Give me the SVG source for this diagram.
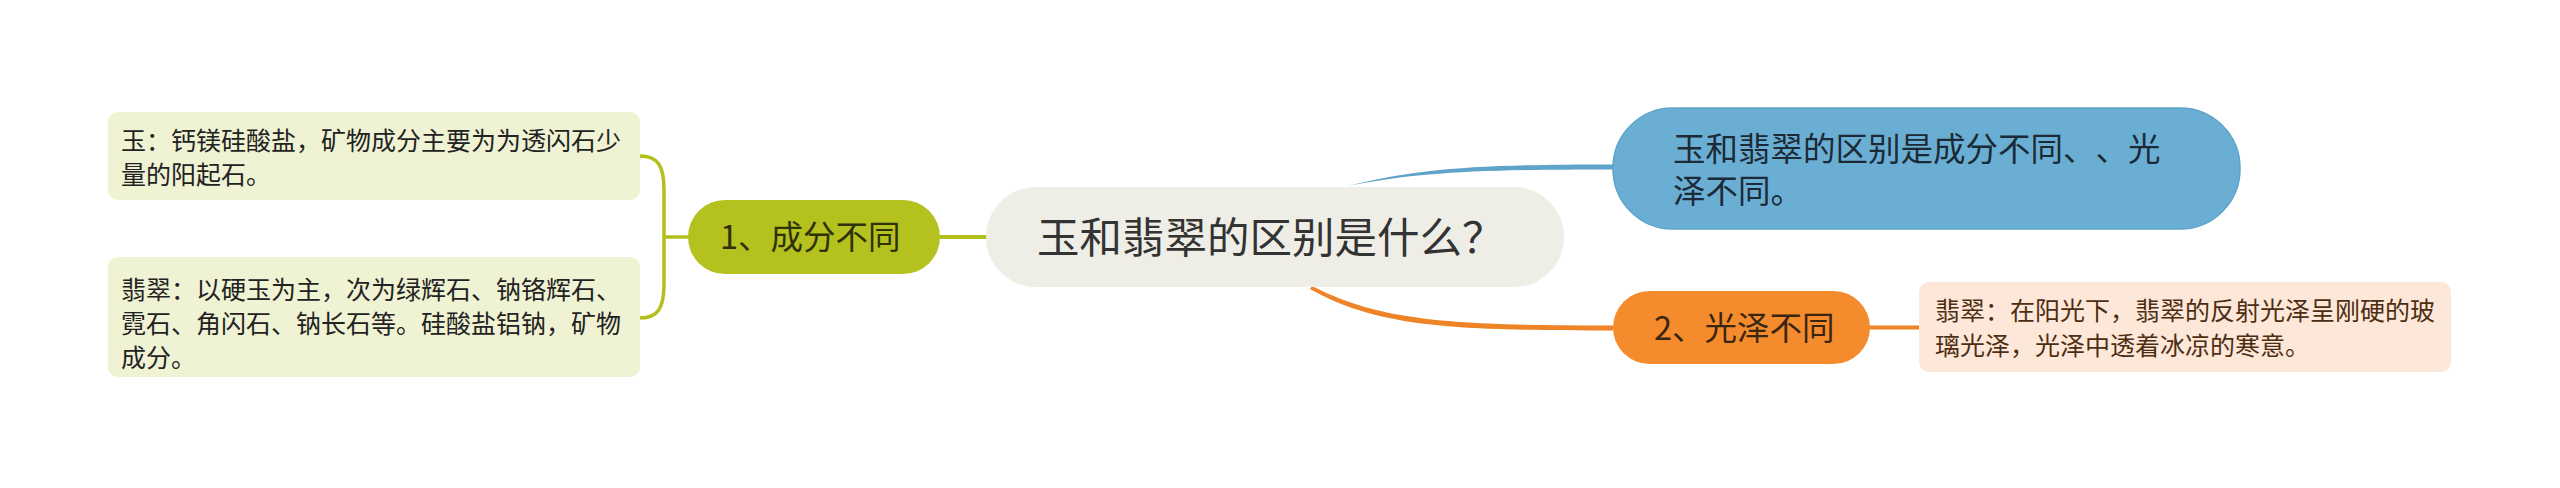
<svg xmlns="http://www.w3.org/2000/svg" width="2560" height="488" viewBox="0 0 2560 488">
<style>
text{font-family:"Noto Sans CJK SC","Noto Sans",sans-serif;text-spacing-trim:space-all;}
.root{font-size:42.5px;fill:#333333;}
.main{font-size:32.5px;}
.leaf{font-size:25px;}
</style>
<rect width="2560" height="488" fill="#ffffff"/>
<g id="connectors">
<path d="M1348 186 C1420 168,1480 164.5,1613 164.5 L1613 169.5 C1480 169.5,1420 172,1348 186 Z" fill="#5fa3c9"/>
<path d="M1312 286 C1380 321,1450 325.5,1613 325.5 L1613 330.5 C1450 330.5,1378 327,1310 289 Z" fill="#ee8427"/>
<line x1="940" y1="237" x2="990" y2="237" stroke="#b3c01c" stroke-width="4"/>
<line x1="1868" y1="327.5" x2="1920" y2="327.5" stroke="#ee8427" stroke-width="4"/>
<path d="M640 156 C658 156,664 166,664 190 L664 284 C664 308,658 318,640 318" fill="none" stroke="#b3c01c" stroke-width="3.5"/>
<line x1="664" y1="237" x2="690" y2="237" stroke="#b3c01c" stroke-width="3.5"/>
</g>
<g id="root">
<rect x="986" y="187" width="578" height="100" rx="50" fill="#efeee6"/>
<text class="root" x="1037" y="253">玉和翡翠的区别是什么？</text>
</g>
<g id="node-blue">
<rect x="1613" y="108" width="627" height="121" rx="60" fill="#6aafd3" stroke="#5fa3c9" stroke-width="1.5"/>
<text class="main" fill="#1c2a36" x="1673" y="161">玉和翡翠的区别是成分不同、、光</text>
<text class="main" fill="#1c2a36" x="1673" y="203">泽不同。</text>
</g>
<g id="node-orange">
<rect x="1613" y="291" width="257" height="73" rx="36.5" fill="#f48c2e"/>
<text class="main" fill="#3a2610" x="1654" y="340">2、光泽不同</text>
</g>
<g id="leaf-orange">
<rect x="1919" y="282" width="532" height="90" rx="10" fill="#fde7d8"/>
<text class="leaf" fill="#4e2e12" x="1935" y="320">翡翠：在阳光下，翡翠的反射光泽呈刚硬的玻</text>
<text class="leaf" fill="#4e2e12" x="1935" y="355">璃光泽，光泽中透着冰凉的寒意。</text>
</g>
<g id="node-green">
<rect x="688" y="200" width="252" height="74" rx="37" fill="#b5c11f"/>
<text class="main" fill="#2e3208" x="720" y="249">1、成分不同</text>
</g>
<g id="leaf-green-1">
<rect x="108" y="112" width="532" height="88" rx="10" fill="#eff2d3"/>
<text class="leaf" fill="#222222" x="121" y="150">玉：钙镁硅酸盐，矿物成分主要为为透闪石少</text>
<text class="leaf" fill="#222222" x="121" y="184">量的阳起石。</text>
</g>
<g id="leaf-green-2">
<rect x="108" y="257" width="532" height="120" rx="10" fill="#eff2d3"/>
<text class="leaf" fill="#222222" x="121" y="299">翡翠：以硬玉为主，次为绿辉石、钠铬辉石、</text>
<text class="leaf" fill="#222222" x="121" y="333">霓石、角闪石、钠长石等。硅酸盐铝钠，矿物</text>
<text class="leaf" fill="#222222" x="121" y="367">成分。</text>
</g>
</svg>
